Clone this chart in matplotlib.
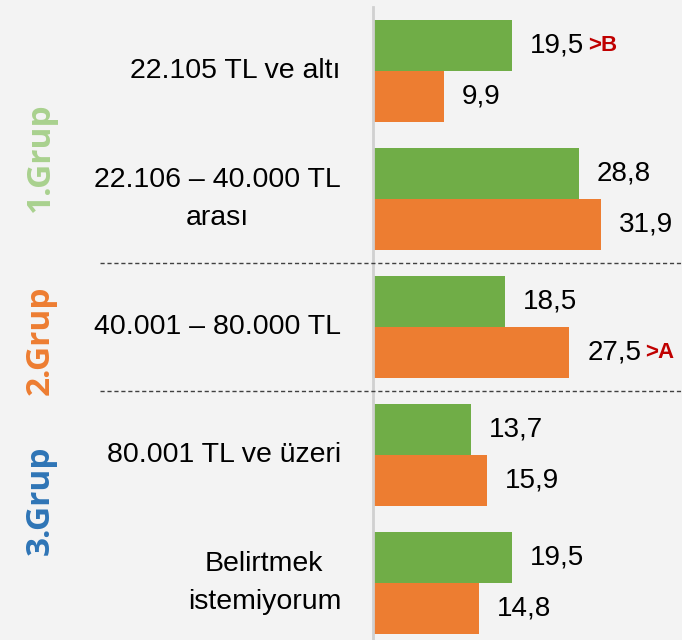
import matplotlib.pyplot as plt

categories = ['22.105 TL ve altı', '22.106 – 40.000 TL\narası', '40.001 – 80.000 TL',
              '80.001 TL ve üzeri', 'Belirtmek\nistemiyorum']
green_vals = [19.5, 28.8, 18.5, 13.7, 19.5]
orange_vals = [9.9, 31.9, 27.5, 15.9, 14.8]
green_marks = ['>B', '', '', '', '']
orange_marks = ['', '', '>A', '', '']
groups = ['1.Grup', '2.Grup', '3.Grup']
group_colors = ['#a9d18e', '#ed7d31', '#2e75b6']
group_pos = [0.67, 2.1, 3.35]
separators = [1.5, 2.5]

GREEN = '#70ad47'
ORANGE = '#ed7d31'
BG = '#f3f3f3'
FONT = ['Liberation Sans', 'DejaVu Sans']

fig = plt.figure(figsize=(6.82, 6.4), dpi=100, facecolor=BG)
ax = fig.add_axes([0, 0, 1, 1])
ax.set_facecolor(BG)

px = 7.14  # pixels per unit on the value axis
ax.set_xlim(-373 / px, 309 / px)
ax.set_ylim(4.445, -0.555)
ax.axis('off')

ypos = list(range(len(categories)))
h = 0.40
ax.barh([y - h / 2 for y in ypos], green_vals, height=h, color=GREEN, edgecolor='none')
ax.barh([y + h / 2 for y in ypos], orange_vals, height=h, color=ORANGE, edgecolor='none')


def value_label(x, y, v, mark):
    t = ax.text(x + 2.5, y, f'{v:.1f}'.replace('.', ','), va='center', ha='left',
                fontsize=20, family=FONT, color='black')
    if mark:
        ax.annotate(mark, xy=(1, 0.5), xycoords=t, xytext=(3, 0), textcoords='offset points',
                    va='center', ha='left', fontsize=16, fontweight='bold',
                    family=FONT, color='#c00000')


# value labels, with the red significance marks where present
for y, v, m in zip(ypos, green_vals, green_marks):
    value_label(v, y - h / 2, v, m)
for y, v, m in zip(ypos, orange_vals, orange_marks):
    value_label(v, y + h / 2, v, m)

# category labels
for y, c in zip(ypos, categories):
    ax.text(-32 / px, y, c, ha='right', va='center', multialignment='center',
            fontsize=20.5, family=FONT, linespacing=1.6)

# vertical axis line
ax.axvline(0, ymin=0, ymax=0.989, color='#d0d0d0', lw=2)

# dashed separators between groups
for s in separators:
    ax.plot([-273 / px, 309 / px], [s, s], ls=(0, (3, 2)), color='#404040', lw=1)

# rotated group titles
for g, c, yp in zip(groups, group_colors, group_pos):
    ax.text(-333 / px, yp, g, rotation=90, ha='center', va='center', fontsize=24,
            fontweight='bold', family=['Open Sans', 'DejaVu Sans'], color=c)

fig.savefig('out.png', dpi=100, facecolor=BG)
